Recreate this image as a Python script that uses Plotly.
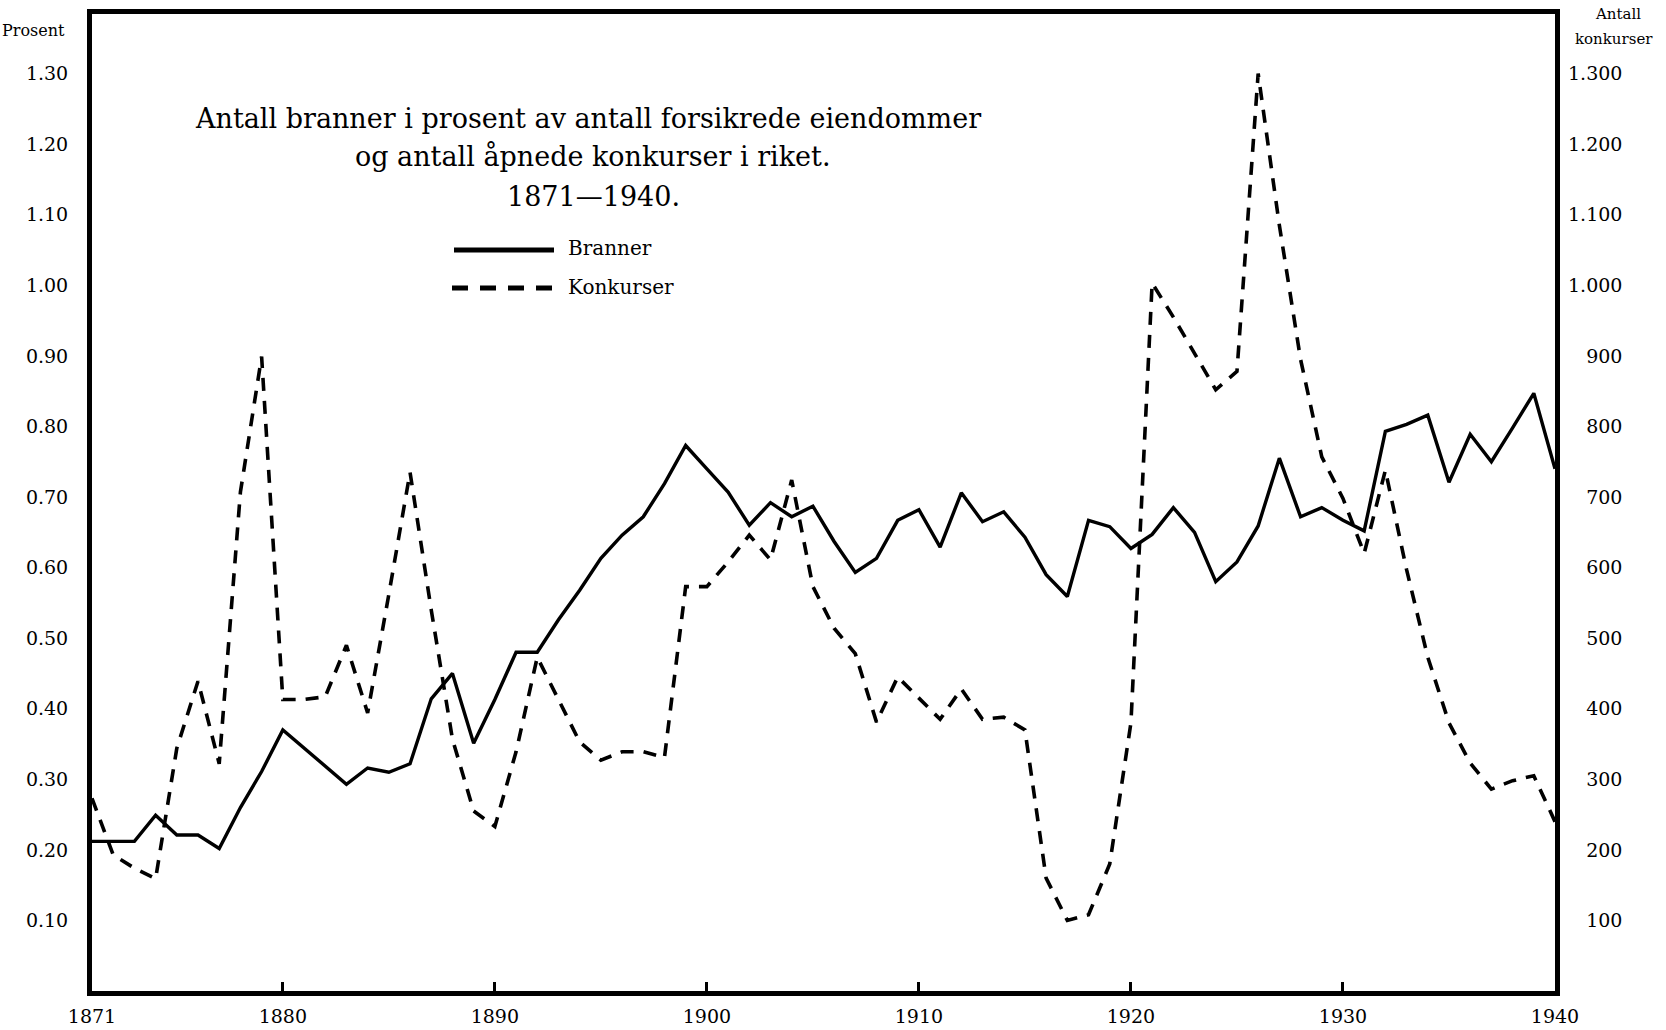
import plotly.graph_objects as go

# ---------------- data ----------------
years = list(range(1871, 1941))

# Antall branner i prosent av antall forsikrede eiendommer
branner = [0.212, 0.212, 0.212, 0.249, 0.221, 0.221, 0.202, 0.260, 0.311, 0.370,   # 1871-1880
           0.344, 0.319, 0.293, 0.316, 0.310, 0.322, 0.414, 0.450, 0.351, 0.413,   # 1881-1890
           0.480, 0.480, 0.526, 0.568, 0.613, 0.646, 0.672, 0.719, 0.773, 0.740,   # 1891-1900
           0.707, 0.660, 0.692, 0.672, 0.687, 0.637, 0.593, 0.613, 0.667, 0.682,   # 1901-1910
           0.629, 0.706, 0.665, 0.679, 0.643, 0.590, 0.559, 0.667, 0.658, 0.627,   # 1911-1920
           0.647, 0.685, 0.650, 0.580, 0.608, 0.659, 0.755, 0.672, 0.685, 0.667,   # 1921-1930
           0.652, 0.793, 0.803, 0.816, 0.721, 0.789, 0.750, 0.798, 0.847, 0.740]   # 1931-1940

# Antall åpnede konkurser
konkurser = [273, 193, 174, 159, 344, 439, 322, 707, 899, 413,    # 1871-1880
             413, 417, 490, 394, 562, 735, 540, 357, 255, 233,    # 1881-1890
             339, 473, 413, 353, 327, 339, 339, 331, 573, 573,    # 1891-1900
             608, 646, 611, 724, 573, 514, 478, 381, 445, 415,    # 1901-1910
             385, 428, 385, 388, 370, 160, 100, 108, 180, 380,    # 1911-1920
             1003, 955, 904, 852, 878, 1300, 1085, 895, 757, 698, # 1921-1930
             620, 738, 597, 473, 380, 323, 286, 298, 305, 240]    # 1931-1940

x_tickvals = [1871, 1880, 1890, 1900, 1910, 1920, 1930, 1940]
x_ticktext = ["1871", "1880", "1890", "1900", "1910", "1920", "1930", "1940"]

left_tickvals = [0.10, 0.20, 0.30, 0.40, 0.50, 0.60, 0.70, 0.80, 0.90, 1.00, 1.10, 1.20, 1.30]
left_ticktext = ["0.10", "0.20", "0.30", "0.40", "0.50", "0.60", "0.70",
                 "0.80", "0.90", "1.00", "1.10", "1.20", "1.30"]

right_tickvals = [100, 200, 300, 400, 500, 600, 700, 800, 900, 1000, 1100, 1200, 1300]
right_ticktext = ["100", "200", "300", "400", "500", "600", "700",
                  "800", "900", "1.000", "1.100", "1.200", "1.300"]

title_lines = ["Antall branner i prosent av antall forsikrede eiendommer",
               "og antall åpnede konkurser i riket.",
               "1871—1940."]
legend_names = ["Branner", "Konkurser"]

# ---------------- layout geometry ----------------
W, H = 1666, 1030
L, R, T, B = 92, 111, 14, 39
PW, PH = W - L - R, H - T - B
Y_MAX = PH / 705.7            # value at the top edge of the frame

def px(xp):
    return (xp - L) / PW

def py(yp):
    return (H - B - yp) / PH

# pad right-axis labels so they look right-aligned
def pad(t):
    n_digits = sum(c.isdigit() for c in t)
    n_dots = t.count(".")
    return "\u2007" * (4 - n_digits) + "\u2008" * (1 - n_dots) + t

right_ticktext_padded = [pad(t) for t in right_ticktext]

serif2 = "DejaVu Serif"
tickfont = dict(family=serif2, size=19, color="black")

fig = go.Figure()
fig.add_trace(go.Scatter(x=years, y=branner, mode="lines", name=legend_names[0],
                         line=dict(color="black", width=3.4), yaxis="y"))
fig.add_trace(go.Scatter(x=years, y=konkurser, mode="lines", name=legend_names[1],
                         line=dict(color="black", width=3.6, dash="13px,10px"), yaxis="y2"))

annotations = []
title_pos = [(588, 119), (593, 157), (593, 197)]
for txt, (xp, yp) in zip(title_lines, title_pos):
    annotations.append(dict(text=txt, x=px(xp), y=py(yp), xref="paper", yref="paper",
                            xanchor="center", yanchor="middle", showarrow=False,
                            font=dict(family=serif2, size=27, color="black")))
annotations.append(dict(text=legend_names[0], x=px(566), y=py(248), xref="paper", yref="paper",
                        xanchor="left", yanchor="middle", showarrow=False,
                        font=dict(family=serif2, size=20, color="black")))
annotations.append(dict(text=legend_names[1], x=px(566), y=py(287), xref="paper", yref="paper",
                        xanchor="left", yanchor="middle", showarrow=False,
                        font=dict(family=serif2, size=20, color="black")))
annotations.append(dict(text="Prosent", x=px(67), y=py(30), xref="paper", yref="paper",
                        xanchor="right", yanchor="middle", showarrow=False,
                        font=dict(family=serif2, size=16, color="black")))
annotations.append(dict(text="Antall", x=px(1618), y=py(14), xref="paper", yref="paper",
                        xanchor="center", yanchor="middle", showarrow=False,
                        font=dict(family=serif2, size=15, color="black")))
annotations.append(dict(text="konkurser", x=px(1614), y=py(39), xref="paper", yref="paper",
                        xanchor="center", yanchor="middle", showarrow=False,
                        font=dict(family=serif2, size=15, color="black")))

shapes = [
    dict(type="line", xref="paper", yref="paper", x0=px(454), x1=px(554), y0=py(250), y1=py(250),
         line=dict(color="black", width=5)),
    dict(type="line", xref="paper", yref="paper", x0=px(452), x1=px(552), y0=py(288), y1=py(288),
         line=dict(color="black", width=5, dash="16px,12px")),
]

fig.update_layout(
    width=W, height=H, autosize=False,
    margin=dict(l=L, r=R, t=T, b=B, pad=0),
    paper_bgcolor="white", plot_bgcolor="white",
    showlegend=False,
    annotations=annotations, shapes=shapes,
    xaxis=dict(range=[1871, 1940], tickvals=x_tickvals, ticktext=x_ticktext,
               showgrid=False, zeroline=False, showline=True, mirror=True,
               linecolor="black", linewidth=5, automargin=False,
               ticks="inside", ticklen=9, tickwidth=3, tickcolor="black",
               tickfont=tickfont, ticklabelstandoff=4),
    yaxis=dict(range=[0, Y_MAX], tickvals=left_tickvals, ticktext=left_ticktext,
               showgrid=False, zeroline=False, showline=True, mirror=True,
               linecolor="black", linewidth=5, ticks="", automargin=False,
               tickfont=tickfont, ticklabelstandoff=15),
    yaxis2=dict(range=[0, Y_MAX * 1000], tickvals=right_tickvals, ticktext=right_ticktext_padded,
                overlaying="y", side="right", showgrid=False, zeroline=False,
                showline=False, ticks="", automargin=False,
                tickfont=tickfont, ticklabelstandoff=12),
)

fig.write_html("out.html", config={"displayModeBar": False},
               post_script="document.body.style.margin='0px';")
